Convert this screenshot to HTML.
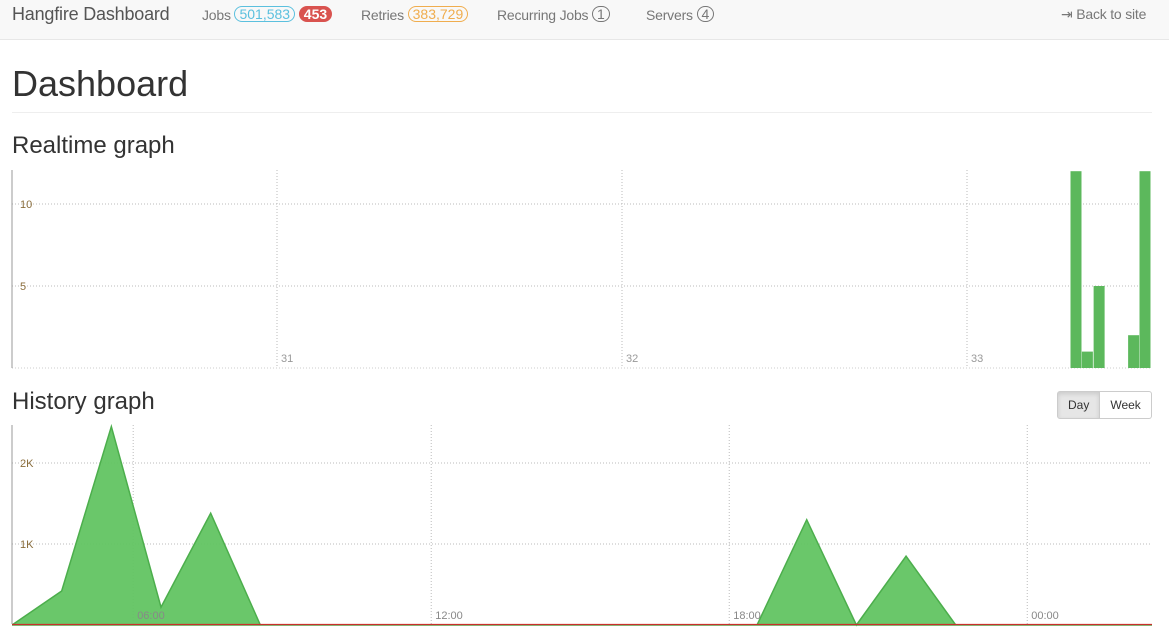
<!DOCTYPE html>
<html><head><meta charset="utf-8"><style>
body{margin:0;width:1169px;height:634px;overflow:hidden;font-family:"Liberation Sans",sans-serif;color:#333;background:#fff}
.nav{position:absolute;left:0;top:0;width:1169px;height:39px;background:#f8f8f8;border-bottom:1px solid #e7e7e7}
.nav span{position:absolute;top:6px;font-size:14px;color:#777;letter-spacing:-0.2px}
.brand{font-size:18px!important;left:12px;top:4px!important;color:#555!important}
.badge{display:inline-block;border:1px solid;border-radius:9px;font-size:11px;padding:1px 4px;line-height:12px;vertical-align:1px;letter-spacing:0!important}
h1{position:absolute;left:12px;top:63px;margin:0;font-size:36px;font-weight:normal}
.hr{position:absolute;left:12px;top:112px;width:1140px;border-top:1px solid #eee}
h2{position:absolute;left:12px;margin:0;font-size:24px;font-weight:normal}
.btns{position:absolute;left:1057px;top:391px;height:28px;display:flex;font-size:12px}
.btns div{border:1px solid #ccc;padding:0 10px;line-height:27px}
</style></head><body>
<div class="nav">
<span class="brand">Hangfire Dashboard</span>
<span style="left:202px">Jobs <span class="badge" style="color:#5bc0de;border-color:#5bc0de;position:static">501,583</span> <span class="badge" style="position:static;background:#d9534f;border-color:#d9534f;color:#fff;font-weight:bold">453</span></span>
<span style="left:361px">Retries <span class="badge" style="position:static;color:#f0ad4e;border-color:#f0ad4e">383,729</span></span>
<span style="left:497px">Recurring Jobs <span class="badge" style="position:static;color:#777;border-color:#777">1</span></span>
<span style="left:646px">Servers <span class="badge" style="position:static;color:#777;border-color:#777">4</span></span>
<span style="left:1061px">⇥ Back to site</span>
</div>
<h1>Dashboard</h1>
<div class="hr"></div>
<h2 style="top:132px">Realtime graph</h2>
<h2 style="top:388px">History graph</h2>
<div class="btns">
<div style="background:#e6e6e6;border-radius:3px 0 0 3px;box-shadow:inset 0 2px 4px rgba(0,0,0,.12)">Day</div>
<div style="border-left:none;border-radius:0 3px 3px 0">Week</div>
</div>
<svg id="rt" width="1169" height="634" style="position:absolute;left:0;top:0">
<defs><clipPath id="hc"><rect x="12" y="420" width="1140" height="210"/></clipPath></defs>
</svg>
<script>
const rtTickVals=[5,10];
const rtXTicks=[31,32,33];
const rtBarTimes=[33.3,33.333,33.367,33.4,33.433,33.467,33.5];
const rtBarVals=[12,1,5,0,0,2,12];
const hYTicks=[1000,2000];
const hYLabels=['1K','2K'];
const hXTicks=[6,12,18,24];
const hXLabels=['06:00','12:00','18:00','00:00'];
const hStart=3.56;
const hSucceeded=[0,420,2450,220,1380,0,0,0,0,0,0,0,0,0,0,0,1300,0,850,0,0,0,0,0];
const hFailed=[0,0,0,0,0,0,0,0,0,0,0,0,0,0,0,0,0,0,0,0,0,0,0,0];
const svg=document.getElementById('rt');const NS='http://www.w3.org/2000/svg';
function mk(t,a){const e=document.createElementNS(NS,t);for(const k in a)e.setAttribute(k,a[k]);svg.appendChild(e);return e;}
const rx=v=>277+(v-31)*345, ry=v=>368-v*16.4;
const hx=h=>12+(h-hStart)*49.67, hy=v=>625-v*0.081;
mk('line',{x1:12,y1:368,x2:1152,y2:368,stroke:'#ccc','stroke-dasharray':'1,2'});
rtTickVals.forEach(v=>{const l=mk('line',{x1:12,y1:ry(v),x2:1152,y2:ry(v),stroke:'#bbb','stroke-dasharray':'1,2'});
const t=mk('text',{x:20,y:ry(v)+4,'font-size':11,fill:'#8a6d3b'});t.textContent=v;});
rtXTicks.forEach(v=>{mk('line',{x1:rx(v),y1:170,x2:rx(v),y2:368,stroke:'#bbb','stroke-dasharray':'1,2'});
const t=mk('text',{x:rx(v)+4,y:362,'font-size':11,fill:'#999'});t.textContent=v;});
mk('line',{x1:12,y1:170,x2:12,y2:368,stroke:'#999'});
rtBarVals.forEach((v,i)=>{if(!v)return;const b=mk('rect',{x:rx(rtBarTimes[i]),y:ry(v),width:11,height:v*16.4,fill:'#5cb85c'});
});
hYTicks.forEach((v,i)=>{mk('line',{x1:12,y1:hy(v),x2:1152,y2:hy(v),stroke:'#bbb','stroke-dasharray':'1,2'});
const t=mk('text',{x:20,y:hy(v)+4,'font-size':11,fill:'#8a6d3b'});t.textContent=hYLabels[i];});
hXTicks.forEach((v,i)=>{mk('line',{x1:hx(v),y1:425,x2:hx(v),y2:624,stroke:'#bbb','stroke-dasharray':'1,2'});});
let d='M'+hx(hStart)+','+hy(0);hSucceeded.forEach((v,i)=>{d+=' L'+hx(hStart+i)+','+hy(v);});d+=' L'+hx(hStart+hSucceeded.length-1)+','+hy(0)+'Z';
const a=mk('path',{d:d,fill:'#62c462','fill-opacity':0.95,stroke:'#4cae4c','stroke-width':1.5,'clip-path':'url(#hc)'});

hXTicks.forEach((v,i)=>{const t=mk('text',{x:hx(v)+4,y:619,'font-size':11,fill:'#888'});t.textContent=hXLabels[i];});
let f='';hFailed.forEach((v,i)=>{f+=(i?' L':'M')+hx(hStart+i)+','+(hy(v)-0.5);});
const fl=mk('path',{d:f,fill:'none',stroke:'#c9302c','stroke-width':1.2,'clip-path':'url(#hc)'});

mk('line',{x1:12,y1:425,x2:12,y2:624,stroke:'#999'});
</script>
</body></html>
